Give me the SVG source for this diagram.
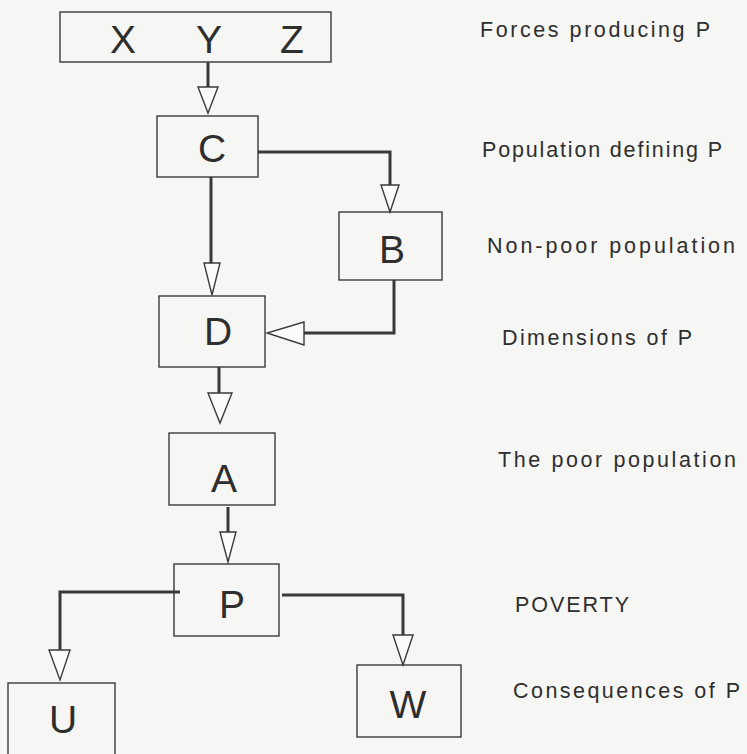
<svg xmlns="http://www.w3.org/2000/svg" width="747" height="754" viewBox="0 0 747 754">
<style>
.bg{fill:#f6f6f4}
.box{fill:none;stroke:#3a3a3a;stroke-width:1.4}
.letter{font-family:"Liberation Sans",Arial,sans-serif;font-size:39px;fill:#2e2e2e;text-anchor:middle}
.label{font-family:"Liberation Sans",Arial,sans-serif;font-size:21.5px;fill:#2e2e2e}
.wire{fill:none;stroke:#3a3a3a;stroke-width:3}
.head{fill:#fbfbfa;stroke:#3a3a3a;stroke-width:1.4;stroke-linejoin:miter}
</style>
<rect class="bg" x="0" y="0" width="747" height="754"/>
<g id="connectors">
<path class="wire" d="M208,62 V88"/>
<polygon class="head" points="198,87 218,87 208,113"/>
<path class="wire" d="M258,152 H390 V185"/>
<polygon class="head" points="381,185 399,185 390,212"/>
<path class="wire" d="M211,177 V264"/>
<polygon class="head" points="204,263 220,263 212,295"/>
<path class="wire" d="M394,280 V333 H304"/>
<polygon class="head" points="304,322 304,345 267,333"/>
<path class="wire" d="M219,367 V394"/>
<polygon class="head" points="208,393 232,393 220,423"/>
<path class="wire" d="M228,507 V533"/>
<polygon class="head" points="220,532 236,532 228,562"/>
<path class="wire" d="M180,592 H60 V651"/>
<polygon class="head" points="49,650 70,650 60,680"/>
<path class="wire" d="M282,595 H403 V636"/>
<polygon class="head" points="393,635 413,635 403,665"/>
</g>
<g id="node-xyz">
<rect class="box" x="60" y="12" width="271" height="50"/>
<text class="letter" x="123" y="53">X</text>
<text class="letter" x="209" y="53">Y</text>
<text class="letter" x="292" y="53">Z</text>
</g>
<g id="node-c">
<rect class="box" x="157" y="116" width="101" height="61"/>
<text class="letter" x="212" y="162">C</text>
</g>
<g id="node-b">
<rect class="box" x="339" y="212" width="103" height="68"/>
<text class="letter" x="392" y="263">B</text>
</g>
<g id="node-d">
<rect class="box" x="159" y="296" width="106" height="71"/>
<text class="letter" x="218" y="345">D</text>
</g>
<g id="node-a">
<rect class="box" x="169" y="433" width="106" height="72"/>
<text class="letter" x="224" y="492">A</text>
</g>
<g id="node-p">
<rect class="box" x="174" y="564" width="105" height="72"/>
<text class="letter" x="232" y="618">P</text>
</g>
<g id="node-u">
<rect class="box" x="8" y="683" width="107" height="90"/>
<text class="letter" x="63" y="733">U</text>
</g>
<g id="node-w">
<rect class="box" x="357" y="665" width="104" height="72"/>
<text class="letter" x="408" y="718">W</text>
</g>
<g id="labels">
<text class="label" x="480" y="37" textLength="230" lengthAdjust="spacing">Forces producing P</text>
<text class="label" x="482" y="157" textLength="240" lengthAdjust="spacing">Population defining P</text>
<text class="label" x="487" y="253" textLength="248" lengthAdjust="spacing">Non-poor population</text>
<text class="label" x="502" y="345" textLength="190" lengthAdjust="spacing">Dimensions of P</text>
<text class="label" x="498" y="467" textLength="238" lengthAdjust="spacing">The poor population</text>
<text class="label" x="515" y="612" textLength="114" lengthAdjust="spacing">POVERTY</text>
<text class="label" x="513" y="698" textLength="227" lengthAdjust="spacing">Consequences of P</text>
</g>
</svg>
